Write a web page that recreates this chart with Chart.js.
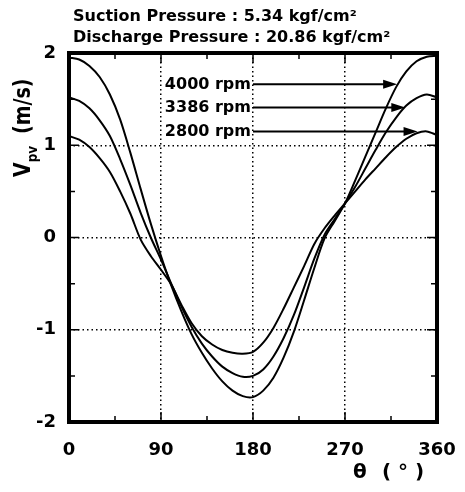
<!DOCTYPE html>
<html>
<head>
<meta charset="utf-8">
<script src="https://cdn.jsdelivr.net/npm/chart.js@4.4.1/dist/chart.umd.min.js"></script>
<style>
  html, body { margin: 0; padding: 0; background: #fff; }
  canvas { display: block; }
</style>
</head>
<body>
<canvas id="vpvChart" width="465" height="492"></canvas>
<script>
// crank angle (deg) and valve velocity Vpv (m/s)
const thetaDeg = [0, 10, 20, 30, 40, 50, 60, 70, 80, 90, 100, 110, 120, 130, 140, 150, 160, 170, 180,
                  190, 200, 210, 220, 230, 240, 250, 260, 270, 280, 290, 300, 310, 320, 330, 340, 350, 360];
const rpm4000 = [1.95, 1.93, 1.86, 1.74, 1.55, 1.28, 0.92, 0.53, 0.15, -0.20, -0.52, -0.80, -1.05, -1.25, -1.42, -1.56, -1.66, -1.72, -1.73,
                 -1.66, -1.52, -1.30, -1.02, -0.68, -0.33, -0.01, 0.18, 0.37, 0.62, 0.88, 1.14, 1.40, 1.63, 1.80, 1.91, 1.96, 1.97];
const rpm3386 = [1.52, 1.48, 1.40, 1.27, 1.10, 0.85, 0.57, 0.27, 0.00, -0.24, -0.50, -0.75, -0.97, -1.15, -1.29, -1.40, -1.47, -1.51, -1.50,
                 -1.43, -1.29, -1.09, -0.84, -0.54, -0.23, 0.03, 0.20, 0.37, 0.55, 0.75, 0.95, 1.14, 1.30, 1.43, 1.51, 1.55, 1.52];
const rpm2800 = [1.10, 1.06, 0.98, 0.86, 0.71, 0.50, 0.26, -0.02, -0.20, -0.35, -0.51, -0.73, -0.93, -1.07, -1.16, -1.22, -1.25, -1.26, -1.24,
                 -1.14, -0.98, -0.77, -0.54, -0.31, -0.07, 0.10, 0.24, 0.37, 0.50, 0.63, 0.75, 0.87, 0.98, 1.07, 1.13, 1.15, 1.11];

const seriesLabels = ['4000 rpm', '3386 rpm', '2800 rpm'];
const arrowLevels = [1.66, 1.41, 1.15];     // Vpv where each arrow runs
const arrowTipTheta = [321, 329, 341];     // angle where each arrow meets its curve
const labelEndTheta = 179;

const xTicks = [0, 90, 180, 270, 360];
const yTicks = [-2, -1, 0, 1, 2];
const titleLines = ['Suction Pressure : 5.34 kgf/cm²', 'Discharge Pressure : 20.86 kgf/cm²'];

const FONT = '"DejaVu Sans", "Liberation Sans", Arial, sans-serif';

document.addEventListener('DOMContentLoaded', function() {
    drawChart();
});

function toPoints(values) {
    return thetaDeg.map((t, i) => ({ x: t, y: values[i] }));
}

// frame, inward tick marks and all the text around the plot
const framePlugin = {
    id: 'frame',
    afterDatasetsDraw(chart) {
        const ctx = chart.ctx;
        const xs = chart.scales.x;
        const ys = chart.scales.y;

        ctx.save();
        ctx.fillStyle = '#000';
        ctx.strokeStyle = '#000';
        ctx.font = 'bold 16px ' + FONT;
        ctx.textAlign = 'right';
        ctx.textBaseline = 'middle';
        seriesLabels.forEach((label, i) => {
            const y = ys.getPixelForValue(arrowLevels[i]);
            const x0 = xs.getPixelForValue(labelEndTheta);
            const x1 = xs.getPixelForValue(arrowTipTheta[i]);
            ctx.fillText(label, x0 - 1, y);
            ctx.lineWidth = 2;
            ctx.beginPath();
            ctx.moveTo(x0 + 1, y);
            ctx.lineTo(x1 - 10, y);
            ctx.stroke();
            ctx.beginPath();
            ctx.moveTo(x1, y);
            ctx.lineTo(x1 - 14, y - 4.5);
            ctx.lineTo(x1 - 14, y + 4.5);
            ctx.closePath();
            ctx.fill();
        });
        ctx.restore();
    },
    afterDraw(chart) {
        const ctx = chart.ctx;
        const a = chart.chartArea;
        const xs = chart.scales.x;
        const ys = chart.scales.y;

        ctx.save();
        ctx.strokeStyle = '#000';
        ctx.fillStyle = '#000';

        // tick marks pointing into the plot
        ctx.lineWidth = 1.5;
        ctx.beginPath();
        for (let v = 45; v < 360; v += 45) {
            const px = xs.getPixelForValue(v);
            const len = v % 90 === 0 ? 10 : 6;
            ctx.moveTo(px, a.bottom); ctx.lineTo(px, a.bottom - len);
            ctx.moveTo(px, a.top); ctx.lineTo(px, a.top + len);
        }
        for (let v = -1.5; v < 2; v += 0.5) {
            const py = ys.getPixelForValue(v);
            const len = Number.isInteger(v) ? 10 : 6;
            ctx.moveTo(a.left, py); ctx.lineTo(a.left + len, py);
            ctx.moveTo(a.right, py); ctx.lineTo(a.right - len, py);
        }
        ctx.stroke();

        // heavy frame
        ctx.lineWidth = 4;
        ctx.strokeRect(a.left, a.top, a.right - a.left, a.bottom - a.top);

        // operating conditions
        ctx.font = 'bold 16px ' + FONT;
        ctx.textAlign = 'left';
        ctx.textBaseline = 'alphabetic';
        ctx.fillText(titleLines[0], a.left + 4, a.top - 32);
        ctx.fillText(titleLines[1], a.left + 4, a.top - 11);

        // y axis title: V_pv (m/s)
        ctx.save();
        ctx.translate(a.left - 39, a.top + 124);
        ctx.rotate(-Math.PI / 2);
        ctx.scale(1, 1.2);
        ctx.font = 'bold 19px ' + FONT;
        ctx.fillText('V', 0, 0);
        const vW = ctx.measureText('V').width;
        ctx.font = 'bold 12px ' + FONT;
        ctx.fillText('pv', vW, 6);
        const pvW = ctx.measureText('pv').width;
        ctx.font = 'bold 19px ' + FONT;
        ctx.fillText('(m/s)', vW + pvW + 12, 0);
        ctx.restore();

        // x axis title
        ctx.font = 'bold 20px ' + FONT;
        ctx.textBaseline = 'middle';
        ctx.fillText('θ', a.right - 84, a.bottom + 51);
        ctx.fillText('( ° )', a.right - 55, a.bottom + 51);

        ctx.restore();
    }
};

function drawChart() {
    const ctx = document.getElementById('vpvChart').getContext('2d');

    const lineStyle = {
        borderColor: '#000',
        borderWidth: 2,
        pointRadius: 0,
        fill: false,
        tension: 0.3
    };

    // only the inner grid lines are dotted, the edges are covered by the frame
    const gridColor = (c) => (c.tick && (c.tick.value === c.scale.min || c.tick.value === c.scale.max)) ? 'rgba(0,0,0,0)' : '#000';

    new Chart(ctx, {
        type: 'line',
        data: {
            datasets: [
                Object.assign({ label: seriesLabels[0], data: toPoints(rpm4000) }, lineStyle),
                Object.assign({ label: seriesLabels[1], data: toPoints(rpm3386) }, lineStyle),
                Object.assign({ label: seriesLabels[2], data: toPoints(rpm2800) }, lineStyle)
            ]
        },
        options: {
            responsive: false,
            animation: false,
            devicePixelRatio: 1,
            layout: { padding: { top: 53, right: 28, left: 0, bottom: 0 } },
            plugins: {
                legend: { display: false },
                tooltip: { enabled: false }
            },
            scales: {
                x: {
                    type: 'linear',
                    min: 0,
                    max: 360,
                    afterBuildTicks: s => { s.ticks = xTicks.map(v => ({ value: v })); },
                    afterFit: s => { s.height = 70; s.paddingLeft = 0; s.paddingRight = 0; },
                    grid: { color: gridColor, lineWidth: 1.5, drawTicks: false },
                    border: { display: false, dash: [1.5, 3] },
                    ticks: {
                        color: '#000',
                        padding: 18,
                        maxRotation: 0,
                        font: { family: FONT, size: 18, weight: 'bold' }
                    }
                },
                y: {
                    type: 'linear',
                    min: -2,
                    max: 2,
                    afterBuildTicks: s => { s.ticks = yTicks.map(v => ({ value: v })); },
                    afterFit: s => { s.width = 69; s.paddingTop = 0; s.paddingBottom = 0; },
                    grid: { color: gridColor, lineWidth: 1.5, drawTicks: false },
                    border: { display: false, dash: [1.5, 3] },
                    ticks: {
                        color: '#000',
                        padding: 13,
                        font: { family: FONT, size: 18, weight: 'bold' }
                    }
                }
            }
        },
        plugins: [framePlugin]
    });
}
</script>
</body>
</html>
